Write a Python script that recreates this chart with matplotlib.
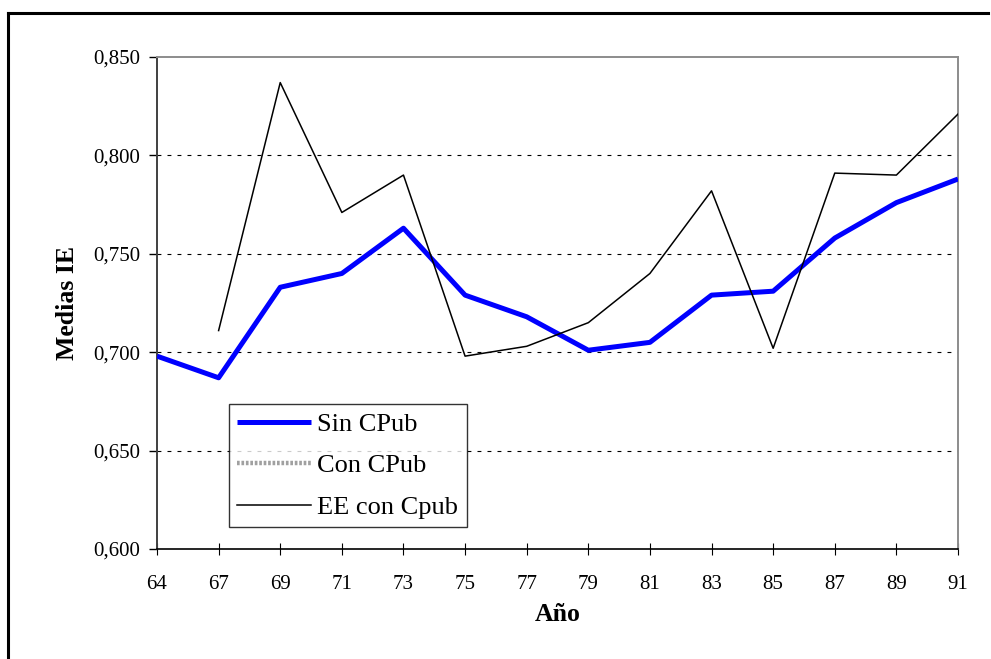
import numpy as np
import matplotlib
matplotlib.use("Agg")
import matplotlib.pyplot as plt
from matplotlib.lines import Line2D
from matplotlib.ticker import FuncFormatter

# data
years = ["64", "67", "69", "71", "73", "75", "77", "79", "81", "83", "85", "87", "89", "91"]
sin_cpub = [0.698, 0.687, 0.733, 0.740, 0.763, 0.729, 0.718, 0.701, 0.705,
            0.729, 0.731, 0.758, 0.776, 0.788]
con_cpub = [np.nan] * 14   # not visible in the plot area, legend entry only
ee_cpub = [np.nan, 0.711, 0.837, 0.771, 0.790, 0.698, 0.703, 0.715, 0.740,
           0.782, 0.702, 0.791, 0.790, 0.821]
y_ticks = [0.600, 0.650, 0.700, 0.750, 0.800, 0.850]

plt.rcParams['font.family'] = ['Liberation Serif', 'DejaVu Serif']

fig = plt.figure(figsize=(9.91, 6.59), dpi=100)
ax = fig.add_axes([157 / 991, 1 - 549 / 659, (958 - 157) / 991, (549 - 57) / 659])

x = np.arange(len(years))
l1, = ax.plot(x, sin_cpub, color='#0000ff', lw=3.6, solid_joinstyle='round',
              solid_capstyle='butt', label='Sin CPub', zorder=3)
l2, = ax.plot(x, con_cpub, color='#a0a0a0', lw=3.2, linestyle=(0, (0.6, 0.4)),
              label='Con CPub', zorder=2)
l3, = ax.plot(x, ee_cpub, color='black', lw=1.1, label='EE con Cpub', zorder=4)

ax.set_xlim(0, len(years) - 1)
ax.set_ylim(0.600, 0.850)
ax.set_xticks(x)
ax.set_xticklabels(years)
ax.set_yticks(y_ticks)
ax.yaxis.set_major_formatter(FuncFormatter(lambda v, _: f"{v:.3f}".replace('.', ',')))

for yv in y_ticks[1:-1]:
    ax.axhline(yv, color='black', lw=0.8, dashes=(3.5, 5.5), zorder=1)

ax.tick_params(axis='y', direction='out', length=6, width=1, pad=6, labelsize=15)
ax.tick_params(axis='x', direction='inout', length=9, width=0.8, pad=14, labelsize=15)

ax.spines['left'].set_color('#404040')
ax.spines['left'].set_linewidth(1.4)
ax.spines['bottom'].set_color('black')
ax.spines['bottom'].set_linewidth(1.2)
for s in ('top', 'right'):
    ax.spines[s].set_color('#8c8c8c')
    ax.spines[s].set_linewidth(1.4)

ax.set_ylabel('Medias IE', fontsize=18.5, fontweight='bold', labelpad=10)
ax.set_xlabel('Año', fontsize=18.5, fontweight='bold', labelpad=7)

leg = ax.legend(handles=[l1, l2, l3], loc='upper left',
                bbox_to_anchor=(229 / 991, 1 - 404 / 659),
                bbox_transform=fig.transFigure, fontsize=19,
                frameon=True, fancybox=False, edgecolor='black',
                handlelength=2.8, handletextpad=0.22, labelspacing=0.68,
                borderpad=0.32, borderaxespad=0)
leg.get_frame().set_linewidth(1.0)

# outer chart border (cut off at bottom and right in the reference)
fig.add_artist(Line2D([8 / 991, 988 / 991], [1 - 13 / 659] * 2, color='black', lw=2.2,
                      transform=fig.transFigure))
fig.add_artist(Line2D([8 / 991] * 2, [0.0, 1 - 13 / 659], color='black', lw=2.2,
                      transform=fig.transFigure))

fig.savefig('out.png', dpi=100, facecolor='white')
